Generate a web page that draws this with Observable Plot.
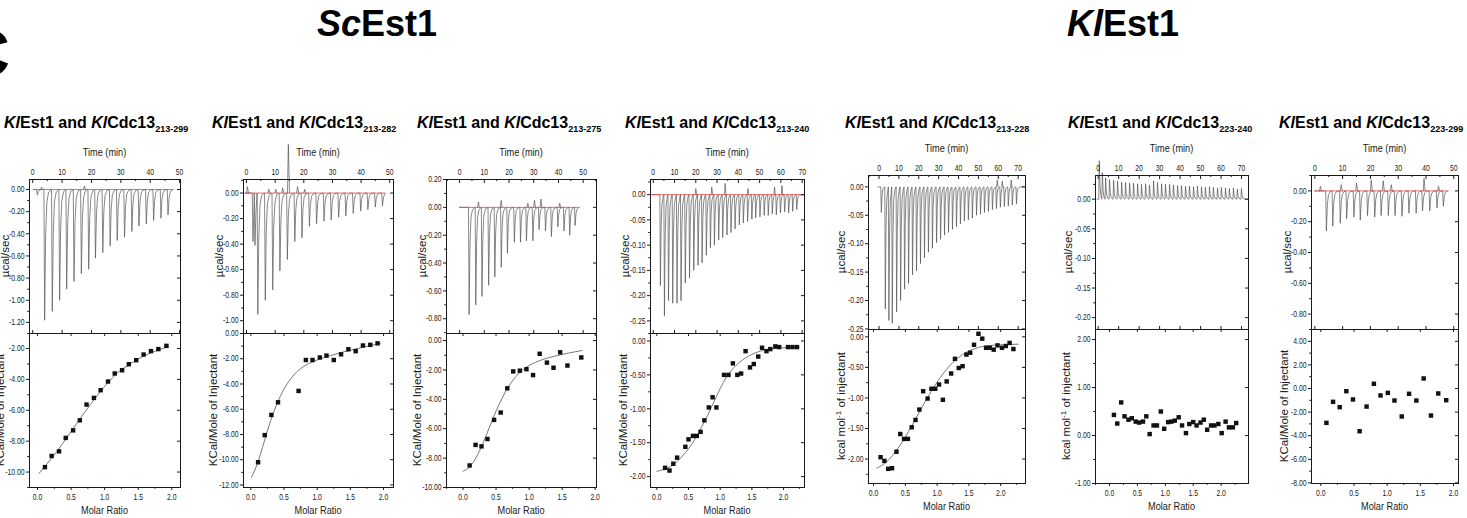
<!DOCTYPE html>
<html>
<head>
<meta charset="utf-8">
<script src="https://cdn.jsdelivr.net/npm/d3@7"></script>
<script src="https://cdn.jsdelivr.net/npm/@observablehq/plot@0.6"></script>
<style>
  html, body { margin: 0; padding: 0; background: #fff; }
  #fig { position: relative; width: 1467px; height: 518px; overflow: hidden; background: #fff; }
  #fig svg { position: absolute; overflow: visible; }
</style>
</head>
<body>
<div id="fig"></div>
<script>
// ---------- shared tick values ----------
const timeTicks50 = [0, 10, 20, 30, 40, 50];
const timeTicks70 = [0, 10, 20, 30, 40, 50, 60, 70];
const ratioTicks = [0, 0.5, 1, 1.5, 2];
const ratioTicks25 = [0, 0.5, 1, 1.5, 2, 2.5];
const constructs = ["213-299", "213-282", "213-275", "213-240", "213-228", "223-240", "223-299"];

// ---------- KlCdc13 213-299 ----------
const p1InjTime = [1.3, 3.8, 6.4, 8.9, 11.3, 13.8, 16.3, 18.8, 21.1, 23.6, 26.1, 28.5, 31.0, 33.5, 35.9, 38.4, 40.9, 43.4, 45.8];
const p1InjPeak = [-0.05, -1.18, -1.10, -1.00, -0.90, -0.83, -0.76, -0.72, -0.62, -0.57, -0.51, -0.46, -0.43, -0.38, -0.33, -0.31, -0.28, -0.26, -0.23];
const p1BlipTime = [3.0, 17.6];
const p1BlipHeight = [0.02, 0.03];
const p1HeatTicks = [0, -0.2, -0.4, -0.6, -0.8, -1.0, -1.2];
const p1Ratio = [0.11, 0.21, 0.32, 0.42, 0.53, 0.63, 0.73, 0.84, 0.94, 1.05, 1.15, 1.26, 1.36, 1.47, 1.58, 1.69, 1.80, 1.92];
const p1Heat = [-9.68, -8.96, -8.66, -7.79, -7.30, -6.65, -5.63, -5.20, -4.70, -4.14, -3.62, -3.41, -3.02, -2.76, -2.39, -2.17, -2.04, -1.83];
const p1FitRatio = [0.02, 0.2, 0.4, 0.6, 0.8, 1.0, 1.2, 1.4, 1.6, 1.8, 1.95];
const p1FitHeat = [-10.1, -9.15, -8.0, -6.75, -5.55, -4.45, -3.55, -2.95, -2.45, -2.1, -1.88];
const p1QTicks = [-2, -4, -6, -8, -10];

// ---------- KlCdc13 213-282 ----------
const p2InjTime = [2.0, 2.7, 3.7, 6.3, 8.9, 11.4, 14.0, 16.6, 19.1, 21.7, 24.2, 26.8, 29.3, 31.9, 34.4, 37.0, 39.6, 42.1, 44.7, 47.2];
const p2InjPeak = [-0.38, -0.41, -0.95, -0.84, -0.76, -0.61, -0.52, -0.38, -0.35, -0.26, -0.24, -0.22, -0.21, -0.19, -0.18, -0.16, -0.14, -0.13, -0.11, -0.10];
const p2BlipTime = [0.3, 7.8, 10.2, 12.6, 14.6, 17.8, 20.3];
const p2BlipHeight = [0.05, 0.03, 0.03, 0.04, 0.38, 0.05, 0.03];
const p2HeatTicks = [0, -0.2, -0.4, -0.6, -0.8, -1.0];
const p2Ratio = [0.11, 0.21, 0.31, 0.41, 0.72, 0.83, 0.93, 1.04, 1.14, 1.25, 1.36, 1.47, 1.58, 1.69, 1.80, 1.91];
const p2Heat = [-10.2, -8.05, -6.45, -5.45, -4.55, -2.1, -2.1, -1.9, -1.75, -2.1, -1.65, -1.25, -1.4, -0.95, -0.9, -0.78];
const p2FitRatio = [0.01, 0.1, 0.2, 0.3, 0.4, 0.5, 0.6, 0.7, 0.8, 1.0, 1.2, 1.4, 1.6, 1.8, 1.95];
const p2FitHeat = [-11.4, -10.3, -8.6, -6.9, -5.5, -4.4, -3.6, -3.0, -2.6, -2.1, -1.75, -1.45, -1.2, -0.95, -0.8];
const p2QTicks = [0, -2, -4, -6, -8, -10, -12];

// ---------- KlCdc13 213-275 ----------
const p3InjTime = [3.6, 6.3, 8.8, 11.5, 14.0, 16.6, 19.1, 21.9, 24.4, 26.8, 29.4, 31.9, 34.5, 36.9, 39.5, 42.0, 44.3, 46.5];
const p3InjPeak = [-0.77, -0.70, -0.64, -0.56, -0.50, -0.43, -0.33, -0.25, -0.25, -0.24, -0.24, -0.16, -0.17, -0.21, -0.14, -0.17, -0.20, -0.13];
const p3BlipTime = [7.6, 16.8, 27.6, 30.3, 32.9, 40.5];
const p3BlipHeight = [0.04, 0.05, 0.03, 0.05, 0.06, 0.03];
const p3HeatTicks = [0.2, 0, -0.2, -0.4, -0.6, -0.8];
const p3Ratio = [0.10, 0.19, 0.28, 0.37, 0.47, 0.57, 0.67, 0.76, 0.86, 0.96, 1.06, 1.16, 1.27, 1.37, 1.47, 1.58, 1.79];
const p3Heat = [-8.5, -7.1, -7.2, -6.7, -5.4, -4.9, -3.25, -2.1, -2.05, -1.95, -2.35, -0.9, -1.5, -1.85, -0.8, -1.7, -1.15];
const p3FitRatio = [0.0, 0.1, 0.2, 0.3, 0.4, 0.5, 0.6, 0.7, 0.8, 0.9, 1.0, 1.2, 1.4, 1.6, 1.8];
const p3FitHeat = [-8.9, -8.6, -7.95, -7.0, -5.9, -4.8, -3.85, -3.05, -2.45, -2.0, -1.7, -1.3, -1.05, -0.85, -0.68];
const p3QTicks = [0, -2, -4, -6, -8, -10];

// ---------- KlCdc13 213-240 ----------
const p4InjTime = [3.1, 5.0, 6.9, 8.9, 10.9, 12.8, 14.8, 16.8, 18.8, 20.8, 22.7, 24.7, 26.6, 28.5, 30.5, 32.4, 34.4, 36.3, 38.2, 40.2, 42.1, 44.1, 46.1, 47.9, 49.9, 51.9, 53.8, 55.7, 57.6, 59.5, 61.5, 63.4, 65.3, 67.2];
const p4InjPeak = [-0.18, -0.24, -0.21, -0.215, -0.215, -0.21, -0.175, -0.165, -0.15, -0.14, -0.135, -0.12, -0.105, -0.10, -0.09, -0.085, -0.08, -0.075, -0.068, -0.06, -0.056, -0.053, -0.049, -0.046, -0.044, -0.041, -0.041, -0.038, -0.04, -0.036, -0.034, -0.036, -0.033, -0.03];
const p4BlipTime = [20.0, 27.5, 33.8, 44.5, 57.0, 60.5];
const p4BlipHeight = [0.012, 0.015, 0.022, 0.012, 0.015, 0.018];
const p4HeatTicks = [0, -0.05, -0.1, -0.15, -0.2, -0.25];
const p4Ratio = [0.13, 0.20, 0.26, 0.32, 0.45, 0.50, 0.57, 0.63, 0.69, 0.75, 0.82, 0.88, 0.94, 1.06, 1.13, 1.20, 1.27, 1.33, 1.40, 1.47, 1.53, 1.60, 1.66, 1.73, 1.79, 1.87, 1.93, 2.07, 2.14, 2.21];
const p4Heat = [-1.87, -1.91, -1.81, -1.72, -1.56, -1.45, -1.40, -1.40, -1.34, -1.17, -0.98, -0.83, -0.98, -0.50, -0.50, -0.33, -0.50, -0.48, -0.15, -0.39, -0.34, -0.23, -0.10, -0.15, -0.12, -0.08, -0.09, -0.09, -0.09, -0.09];
const p4FitRatio = [0.0, 0.2, 0.4, 0.6, 0.7, 0.8, 0.9, 1.0, 1.1, 1.2, 1.4, 1.6, 1.8, 2.0, 2.25];
const p4FitHeat = [-1.92, -1.86, -1.70, -1.45, -1.28, -1.10, -0.90, -0.70, -0.53, -0.41, -0.25, -0.16, -0.12, -0.10, -0.09];
const p4QTicks = [0, -0.5, -1, -1.5, -2];

// ---------- KlCdc13 213-228 ----------
const p5InjTime = [0.9, 2.9, 4.7, 6.4, 8.6, 10.6, 12.6, 14.6, 16.6, 18.6, 20.6, 22.6, 24.6, 26.6, 28.7, 30.7, 32.7, 34.7, 36.7, 38.7, 40.7, 42.7, 44.7, 46.7, 48.8, 50.8, 52.8, 54.8, 56.8, 58.8, 60.8, 62.8, 64.8, 66.8, 68.9];
const p5InjPeak = [-0.045, -0.215, -0.235, -0.24, -0.22, -0.20, -0.18, -0.17, -0.155, -0.148, -0.135, -0.125, -0.115, -0.108, -0.098, -0.092, -0.085, -0.08, -0.075, -0.07, -0.065, -0.06, -0.058, -0.055, -0.05, -0.048, -0.045, -0.043, -0.04, -0.038, -0.036, -0.035, -0.034, -0.032, -0.03];
const p5BlipTime = [59.5, 62.0, 66.5];
const p5BlipHeight = [0.012, 0.01, 0.012];
const p5HeatTicks = [0, -0.05, -0.1, -0.15, -0.2, -0.25];
const p5Ratio = [0.11, 0.17, 0.23, 0.29, 0.36, 0.42, 0.48, 0.54, 0.60, 0.66, 0.72, 0.78, 0.85, 0.91, 0.97, 1.03, 1.09, 1.15, 1.22, 1.28, 1.34, 1.40, 1.46, 1.52, 1.58, 1.65, 1.71, 1.77, 1.83, 1.89, 1.95, 2.02, 2.08, 2.14, 2.20];
const p5Heat = [-1.97, -2.03, -2.16, -2.15, -1.88, -1.59, -1.67, -1.67, -1.48, -1.36, -1.19, -0.89, -1.01, -0.85, -0.85, -0.78, -1.03, -0.73, -0.60, -0.36, -0.51, -0.48, -0.29, -0.26, -0.13, 0.05, -0.03, -0.18, -0.18, -0.21, -0.14, -0.18, -0.15, -0.10, -0.20];
const p5FitRatio = [0.05, 0.2, 0.4, 0.6, 0.8, 1.0, 1.2, 1.4, 1.6, 1.8, 2.0, 2.28];
const p5FitHeat = [-2.15, -2.05, -1.80, -1.46, -1.08, -0.74, -0.47, -0.29, -0.19, -0.145, -0.13, -0.12];
const p5QTicks = [0, -0.5, -1, -1.5, -2];

// ---------- KlCdc13 223-240 ----------
const p6InjTime = [0.3, 1.8, 3.4, 5.3, 7.3, 9.2, 11.2, 13.1, 15.1, 17.0, 19.0, 20.9, 22.9, 24.8, 26.8, 28.7, 30.7, 32.6, 34.6, 36.5, 38.5, 40.4, 42.4, 44.3, 46.3, 48.2, 50.2, 52.1, 54.1, 56.0, 58.0, 59.9, 61.9, 63.8, 65.8, 67.7, 69.7];
const p6InjPeak = [0.065, 0.045, 0.036, 0.033, 0.032, 0.031, 0.029, 0.028, 0.027, 0.027, 0.026, 0.025, 0.026, 0.024, 0.031, 0.028, 0.026, 0.025, 0.025, 0.024, 0.023, 0.023, 0.022, 0.022, 0.021, 0.022, 0.021, 0.020, 0.021, 0.020, 0.019, 0.020, 0.019, 0.018, 0.019, 0.017, 0.018];
const p6BlipTime = [];
const p6BlipHeight = [];
const p6HeatTicks = [0, -0.05, -0.1, -0.15, -0.2];
const p6Ratio = [0.08, 0.14, 0.21, 0.27, 0.34, 0.40, 0.47, 0.53, 0.60, 0.66, 0.72, 0.79, 0.85, 0.92, 0.98, 1.05, 1.11, 1.17, 1.24, 1.30, 1.37, 1.43, 1.50, 1.56, 1.63, 1.69, 1.75, 1.82, 1.88, 1.95, 2.01, 2.08, 2.14, 2.21, 2.27];
const p6Heat = [0.43, 0.25, 0.69, 0.40, 0.33, 0.36, 0.29, 0.27, 0.29, 0.40, 0.03, 0.21, 0.21, 0.50, 0.14, 0.28, 0.29, 0.31, 0.38, 0.21, 0.05, 0.24, 0.28, 0.21, 0.27, 0.33, 0.12, 0.21, 0.21, 0.24, 0.05, 0.29, 0.17, 0.17, 0.26];
const p6QTicks = [2, 1, 0, -1];

// ---------- KlCdc13 223-299 ----------
const p7InjTime = [3.9, 6.2, 8.9, 11.2, 13.8, 16.1, 18.7, 21.3, 23.6, 26.2, 28.6, 31.1, 33.6, 36.2, 38.5, 41.1, 43.7, 46.0];
const p7InjPeak = [-0.26, -0.23, -0.21, -0.18, -0.17, -0.19, -0.16, -0.17, -0.16, -0.16, -0.16, -0.165, -0.145, -0.145, -0.13, -0.13, -0.11, -0.10];
const p7BlipTime = [2.0, 9.5, 15.0, 20.3, 24.6, 27.5, 39.3, 44.5];
const p7BlipHeight = [0.03, 0.04, 0.05, 0.07, 0.065, 0.04, 0.08, 0.03];
const p7HeatTicks = [0, -0.2, -0.4, -0.6, -0.8];
const p7Ratio = [0.085, 0.185, 0.285, 0.385, 0.485, 0.585, 0.69, 0.80, 0.90, 1.01, 1.11, 1.22, 1.33, 1.44, 1.55, 1.66, 1.77, 1.89];
const p7Heat = [-2.91, -1.13, -1.58, -0.23, -0.93, -3.62, -1.53, 0.40, -0.59, -0.37, -1.02, -2.37, -0.45, -1.02, 0.85, -2.29, -0.42, -0.99];
const p7QTicks = [4, 2, 0, -2, -4, -6, -8];

// ---------- panel layout (pixel frames, scale domains) ----------
const panels = [
  {left: 29, right: 180, top: 179, mid: 333, bottom: 487, tDom: [-1.1, 50.3], tSpan: [0.2, 47.8], hDom: [-1.30, 0.09], rDom: [-0.12, 2.13], qDom: [-11, -1.03], red: true, ylTop: -24, ylBot: -29, titleX: 4, kcalUnit: false,
   inj: [p1InjTime, p1InjPeak], blip: [p1BlipTime, p1BlipHeight], pts: [p1Ratio, p1Heat], fit: [p1FitRatio, p1FitHeat], tTicks: timeTicks50, hTicks: p1HeatTicks, rTicks: ratioTicks, qTicks: p1QTicks},
  {left: 243, right: 393, top: 179, mid: 333, bottom: 487, tDom: [-1.05, 51.3], tSpan: [-0.5, 48.5], hDom: [-1.10, 0.106], rDom: [-0.11, 2.15], qDom: [-12.2, 0], red: true, ylTop: -24, ylBot: -30, titleX: 212, kcalUnit: false,
   inj: [p2InjTime, p2InjPeak], blip: [p2BlipTime, p2BlipHeight], pts: [p2Ratio, p2Heat], fit: [p2FitRatio, p2FitHeat], tTicks: timeTicks50, hTicks: p2HeatTicks, rTicks: ratioTicks, qTicks: p2QTicks},
  {left: 446, right: 596, top: 179, mid: 333, bottom: 487, tDom: [-5.3, 55.4], tSpan: [0, 48.5], hDom: [-0.906, 0.20], rDom: [-0.25, 2.02], qDom: [-10, 0.48], red: true, ylTop: -24, ylBot: -29, titleX: 417, kcalUnit: false,
   inj: [p3InjTime, p3InjPeak], blip: [p3BlipTime, p3BlipHeight], pts: [p3Ratio, p3Heat], fit: [p3FitRatio, p3FitHeat], tTicks: timeTicks50, hTicks: p3HeatTicks, rTicks: ratioTicks, qTicks: p3QTicks},
  {left: 650, right: 804, top: 179, mid: 333, bottom: 487, tDom: [-1.3, 71.1], tSpan: [-1, 71], hDom: [-0.275, 0.03], rDom: [-0.1, 2.33], qDom: [-2.16, 0.11], red: true, ylTop: -25, ylBot: -27, titleX: 625, kcalUnit: false,
   inj: [p4InjTime, p4InjPeak], blip: [p4BlipTime, p4BlipHeight], pts: [p4Ratio, p4Heat], fit: [p4FitRatio, p4FitHeat], tTicks: timeTicks70, hTicks: p4HeatTicks, rTicks: ratioTicks, qTicks: p4QTicks},
  {left: 868, right: 1025, top: 175, mid: 329, bottom: 483, tDom: [-5.3, 73.7], tSpan: [-0.5, 73], hDom: [-0.251, 0.02], rDom: [-0.08, 2.39], qDom: [-2.40, 0.12], red: false, ylTop: -27, ylBot: -27, titleX: 845, kcalUnit: true,
   inj: [p5InjTime, p5InjPeak], blip: [p5BlipTime, p5BlipHeight], pts: [p5Ratio, p5Heat], fit: [p5FitRatio, p5FitHeat], tTicks: timeTicks70, hTicks: p5HeatTicks, rTicks: ratioTicks, qTicks: p5QTicks},
  {left: 1095, right: 1248, top: 175, mid: 329, bottom: 483, tDom: [-1.3, 73.4], tSpan: [-0.5, 73], hDom: [-0.22, 0.04], rDom: [-0.25, 2.49], qDom: [-1.0, 2.21], red: false, ylTop: -27, ylBot: -29, titleX: 1068, kcalUnit: true,
   inj: [p6InjTime, p6InjPeak], blip: [p6BlipTime, p6BlipHeight], pts: [p6Ratio, p6Heat], fit: null, tTicks: timeTicks70, hTicks: p6HeatTicks, rTicks: ratioTicks25, qTicks: p6QTicks},
  {left: 1311, right: 1458, top: 175, mid: 329, bottom: 483, tDom: [-1.2, 51.7], tSpan: [0, 48], hDom: [-0.90, 0.10], rDom: [-0.14, 2.075], qDom: [-8.05, 5.0], red: true, ylTop: -24, ylBot: -27, titleX: 1279, kcalUnit: false,
   inj: [p7InjTime, p7InjPeak], blip: [p7BlipTime, p7BlipHeight], pts: [p7Ratio, p7Heat], fit: null, tTicks: timeTicks50, hTicks: p7HeatTicks, rTicks: ratioTicks, qTicks: p7QTicks}
];

// ---------- helpers ----------
const SANS = "'Liberation Sans',Arial,Helvetica,sans-serif";
const CONDENSE = 0.8;          // horizontal squeeze for the narrow axis lettering
const INK = "#1a1a1a";
const TRACE = "#555";
const f2 = d => (Math.abs(d) < 1e-9 ? 0 : d).toFixed(2);
const f1 = d => d.toFixed(1);
const fi = d => String(d);
const blank = () => "";
const within = (v, dom) => v >= Math.min(...dom) - 1e-9 && v <= Math.max(...dom) + 1e-9;

// minor ticks sit halfway between the labelled ones
function minorTicks(ticks, dom) {
  const st = Math.abs(ticks[1] - ticks[0]), a = Math.min(...ticks), out = [];
  for (let k = -4; k <= ticks.length + 4; k++) {
    const v = a + (k + 0.5) * st;
    if (within(v, dom)) out.push(v);
  }
  return out;
}

// raw power trace: each injection gives a sharp spike that relaxes back to the baseline
function thermogram(times, peaks, span) {
  const shape = [[0, 0], [0.25, 1], [0.6, 0.35], [1.0, 0.1], [1.6, 0.02]];
  const pts = [{t: span[0], v: 0}];
  times.forEach((t, i) => {
    const next = i + 1 < times.length ? times[i + 1] : span[1];
    for (const [dt, f] of shape) if (t + dt < next) pts.push({t: t + dt, v: peaks[i] * f});
  });
  pts.push({t: span[1], v: 0});
  return pts;
}

// small upward excursions of the baseline
function blips(times, heights) {
  return times.flatMap((t, i) => [{k: i, t: t - 0.3, v: 0}, {k: i, t, v: heights[i]}, {k: i, t: t + 0.4, v: 0}]);
}

// squeeze tick labels horizontally about their own anchor point
function condenseTickLabels(svg) {
  svg.querySelectorAll('g[aria-label$="tick label"] text').forEach(t => {
    let tr = t.getAttribute("transform") || "";
    const x = t.getAttribute("x");
    if (x !== null && isFinite(+x)) {
      tr = `${tr} translate(${+x},0)`;
      t.removeAttribute("x");
    }
    t.setAttribute("transform", `${tr} scale(${CONDENSE},1)`);
  });
}

const fig = document.getElementById("fig");
function place(svg, x, y) {
  condenseTickLabels(svg);
  svg.style.position = "absolute";
  svg.style.left = x + "px";
  svg.style.top = y + "px";
  svg.style.maxWidth = "none";
  fig.appendChild(svg);
}

const ML = 50, MR = 10, MT = 42, MB = 24;
const plotStyle = {fontFamily: SANS, fontSize: "8.5px", color: INK, background: "transparent", overflow: "visible"};

panels.forEach(p => {
  const W = p.right - p.left, H1 = p.mid - p.top, H2 = p.bottom - p.mid;
  const hT = p.hTicks.filter(v => within(v, p.hDom));
  const qT = p.qTicks.filter(v => within(v, p.qDom));
  const tT = p.tTicks.filter(v => within(v, p.tDom));
  const rT = p.rTicks.filter(v => within(v, p.rDom));

  // ---- upper panel: power vs time ----
  const top = Plot.plot({
    width: W + ML + MR, height: H1 + MT,
    marginLeft: ML, marginRight: MR, marginTop: MT, marginBottom: 0,
    style: plotStyle,
    x: {domain: p.tDom},
    y: {domain: p.hDom},
    marks: [
      Plot.line(thermogram(p.inj[0], p.inj[1], p.tSpan), {x: "t", y: "v", stroke: TRACE, strokeWidth: 0.7}),
      Plot.line(blips(p.blip[0], p.blip[1]), {x: "t", y: "v", z: "k", stroke: TRACE, strokeWidth: 0.7}),
      p.red ? Plot.ruleY([{y: 0, a: p.tSpan[0], b: p.tSpan[1]}], {y: "y", x1: "a", x2: "b", stroke: "#e04848", strokeWidth: 0.8}) : null,
      Plot.frame({stroke: INK, strokeWidth: 1}),
      Plot.axisY({ticks: hT, tickFormat: f2, tickSize: 3, tickPadding: 2, label: null}),
      Plot.axisY({ticks: minorTicks(p.hTicks, p.hDom), tickFormat: blank, tickSize: 1.8, label: null}),
      Plot.tickY(hT, {y: d => d, insetLeft: W - 3, stroke: INK}),
      Plot.axisX({anchor: "top", ticks: tT, tickFormat: fi, tickSize: 0, tickPadding: 5, label: null}),
      Plot.tickX(tT, {x: d => d, insetBottom: H1 - 4, stroke: INK}),
      Plot.tickX(minorTicks(p.tTicks, p.tDom), {x: d => d, insetBottom: H1 - 2, stroke: INK}),
      Plot.tickX(tT, {x: d => d, insetTop: H1 - 3, stroke: INK})
    ]
  });
  place(top, p.left - ML, p.top - MT);

  // ---- lower panel: integrated heats vs molar ratio ----
  const pts = p.pts[0].map((r, i) => ({r, q: p.pts[1][i]}));
  const fit = p.fit ? p.fit[0].map((r, i) => ({r, q: p.fit[1][i]})) : [];
  const bottom = Plot.plot({
    width: W + ML + MR, height: H2 + MB,
    marginLeft: ML, marginRight: MR, marginTop: 0, marginBottom: MB,
    style: plotStyle,
    x: {domain: p.rDom},
    y: {domain: p.qDom},
    marks: [
      p.fit ? Plot.line(fit, {x: "r", y: "q", curve: "monotone-x", stroke: TRACE, strokeWidth: 0.8}) : null,
      Plot.dot(pts, {x: "r", y: "q", symbol: "square", r: 2.5, fill: "#111", stroke: "none"}),
      Plot.frame({stroke: INK, strokeWidth: 1}),
      Plot.axisY({ticks: qT, tickFormat: f2, tickSize: 3, tickPadding: 2, label: null}),
      Plot.axisY({ticks: minorTicks(p.qTicks, p.qDom), tickFormat: blank, tickSize: 1.8, label: null}),
      Plot.tickY(qT, {y: d => d, insetLeft: W - 3, stroke: INK}),
      Plot.axisX({anchor: "bottom", ticks: rT, tickFormat: f1, tickSize: 3, tickPadding: 3, label: null}),
      Plot.axisX({anchor: "bottom", ticks: minorTicks(p.rTicks, p.rDom), tickFormat: blank, tickSize: 1.8, label: null}),
      Plot.tickX(rT, {x: d => d, insetBottom: H2 - 3, stroke: INK})
    ]
  });
  place(bottom, p.left - ML, p.mid);
});

// ---------- titles and axis names ----------
const ov = d3.select(fig).append("svg")
  .attr("width", 1467).attr("height", 518)
  .style("left", "0px").style("top", "0px").style("pointer-events", "none");

ov.append("text").attr("x", 10).attr("y", 76).attr("text-anchor", "end")
  .attr("font-family", SANS).attr("font-weight", "bold").attr("font-size", 66).attr("fill", "#000").text("C");

function header(x, ital, rest) {
  const t = ov.append("text").attr("x", x).attr("y", 36).attr("text-anchor", "middle")
    .attr("font-family", SANS).attr("font-weight", "bold").attr("font-size", 36).attr("fill", "#000");
  t.append("tspan").attr("font-style", "italic").text(ital);
  t.append("tspan").text(rest);
}
header(377, "Sc", "Est1");
header(1123, "Kl", "Est1");

function narrowLabel(x, y, text) {
  ov.append("text").attr("transform", `translate(${x},${y}) scale(${CONDENSE},1)`)
    .attr("text-anchor", "middle").attr("font-family", SANS).attr("font-size", 11.5)
    .attr("fill", INK).text(text);
}

panels.forEach((p, i) => {
  const cx = (p.left + p.right) / 2;
  const t = ov.append("text").attr("x", p.titleX).attr("y", 128)
    .attr("font-family", SANS).attr("font-weight", "bold").attr("font-size", 16).attr("fill", "#000");
  t.append("tspan").attr("font-style", "italic").text("Kl");
  t.append("tspan").text("Est1 and ");
  t.append("tspan").attr("font-style", "italic").text("Kl");
  t.append("tspan").text("Cdc13");
  t.append("tspan").attr("font-size", 9).attr("dy", 4).text(constructs[i]);

  narrowLabel(cx, p.top - 23, "Time (min)");
  narrowLabel(cx, p.bottom + 27, "Molar Ratio");

  const yTop = (p.top + p.mid) / 2, yBot = (p.mid + p.bottom) / 2;
  ov.append("text").attr("transform", `translate(${p.left + p.ylTop},${yTop}) rotate(-90)`)
    .attr("text-anchor", "middle").attr("dy", "0.35em")
    .attr("font-family", SANS).attr("font-size", 11.5).attr("fill", INK).text("\u00B5cal/sec");
  const yl = ov.append("text").attr("transform", `translate(${p.left + p.ylBot},${yBot}) rotate(-90)`)
    .attr("text-anchor", "middle").attr("dy", "0.35em")
    .attr("font-family", SANS).attr("font-size", 11.5).attr("fill", INK);
  if (p.kcalUnit) {
    yl.append("tspan").text("kcal mol");
    yl.append("tspan").attr("font-size", 8).attr("dy", -4).text("-1");
    yl.append("tspan").attr("dy", 4).text(" of injectant");
  } else {
    yl.text("KCal/Mole of Injectant");
  }
});
</script>
</body>
</html>
